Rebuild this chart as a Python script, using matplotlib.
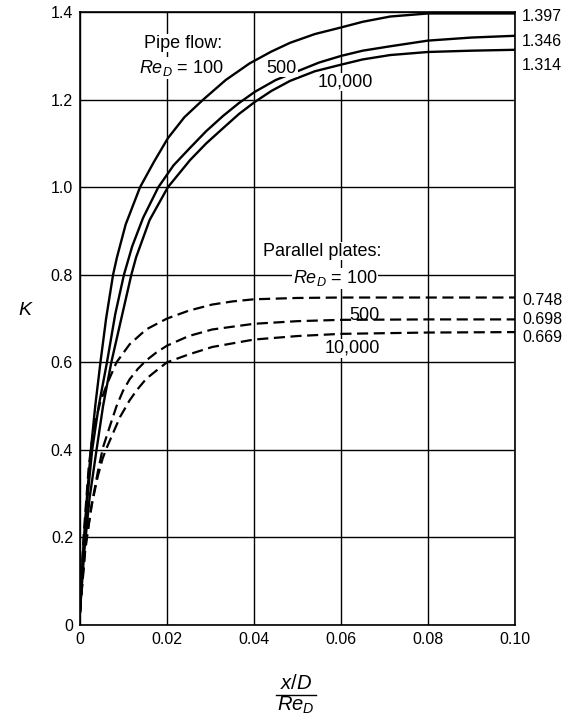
import matplotlib.pyplot as plt
from matplotlib.lines import Line2D

plt.rcParams['font.family'] = ['Liberation Sans', 'DejaVu Sans']
plt.rcParams['mathtext.fontset'] = 'custom'
plt.rcParams['mathtext.rm'] = 'Liberation Sans'
plt.rcParams['mathtext.it'] = 'Liberation Sans:italic'

# pipe flow, K vs (x/D)/Re_D
pipe_100_x = [0, 0.0006, 0.0015, 0.0025, 0.0035, 0.0047, 0.006, 0.0076, 0.0085, 0.0105,
              0.0138, 0.017, 0.0202, 0.024, 0.0283, 0.0335, 0.039, 0.044, 0.0483, 0.054,
              0.06, 0.065, 0.0713, 0.08, 0.09, 0.10]
pipe_100_k = [0.03, 0.15, 0.28, 0.4, 0.5, 0.6, 0.7, 0.8, 0.84, 0.915,
              1.0, 1.058, 1.112, 1.16, 1.2, 1.245, 1.283, 1.31, 1.33, 1.35,
              1.365, 1.378, 1.39, 1.397, 1.397, 1.397]
pipe_500_x = [0, 0.0008, 0.0017, 0.0028, 0.0043, 0.0062, 0.0081, 0.0101, 0.012, 0.0145,
              0.018, 0.0215, 0.0253, 0.029, 0.0329, 0.0365, 0.0402, 0.045, 0.05, 0.055,
              0.06, 0.065, 0.0713, 0.08, 0.09, 0.10]
pipe_500_k = [0.03, 0.17, 0.29, 0.4, 0.5, 0.6, 0.71, 0.8, 0.865, 0.93,
              1.0, 1.05, 1.09, 1.128, 1.163, 1.192, 1.218, 1.245, 1.265, 1.285,
              1.30, 1.312, 1.322, 1.335, 1.342, 1.346]
pipe_1e4_x = [0, 0.001, 0.0022, 0.0038, 0.0053, 0.0072, 0.0095, 0.0118, 0.0129, 0.016,
              0.0202, 0.0253, 0.029, 0.0329, 0.0365, 0.0402, 0.044, 0.0483, 0.054, 0.06,
              0.065, 0.0713, 0.08, 0.09, 0.10]
pipe_1e4_k = [0.03, 0.17, 0.29, 0.4, 0.5, 0.6, 0.7, 0.8, 0.84, 0.925,
              1.0, 1.062, 1.1, 1.135, 1.167, 1.195, 1.22, 1.243, 1.265, 1.28,
              1.292, 1.302, 1.309, 1.312, 1.314]

# parallel plates
plate_100_x = [0, 0.0008, 0.002, 0.0026, 0.0034, 0.0047, 0.0062, 0.0084, 0.0114, 0.0152,
               0.02, 0.025, 0.0304, 0.035, 0.04, 0.05, 0.06, 0.08, 0.10]
plate_100_k = [0.03, 0.2, 0.36, 0.41, 0.46, 0.51, 0.55, 0.6, 0.641, 0.675,
               0.70, 0.718, 0.732, 0.739, 0.744, 0.747, 0.748, 0.748, 0.748]
plate_500_x = [0, 0.0012, 0.0028, 0.0041, 0.0053, 0.0068, 0.0084, 0.0099, 0.0114, 0.0133,
               0.0152, 0.0175, 0.02, 0.025, 0.0304, 0.04, 0.05, 0.06, 0.08, 0.10]
plate_500_k = [0.03, 0.18, 0.28, 0.35, 0.406, 0.452, 0.50, 0.535, 0.561, 0.585,
               0.604, 0.622, 0.638, 0.66, 0.675, 0.688, 0.694, 0.697, 0.698, 0.698]
plate_1e4_x = [0, 0.0012, 0.0026, 0.0041, 0.0052, 0.0062, 0.0092, 0.0114, 0.0131, 0.0152,
               0.0168, 0.02, 0.025, 0.0304, 0.04, 0.05, 0.06, 0.08, 0.10]
plate_1e4_k = [0.03, 0.17, 0.27, 0.34, 0.38, 0.406, 0.475, 0.513, 0.537, 0.562,
               0.575, 0.6, 0.618, 0.635, 0.652, 0.66, 0.665, 0.668, 0.669]

pipe_limits = ['1.397', '1.346', '1.314']
plate_limits = ['0.748', '0.698', '0.669']
xticks = [0, 0.02, 0.04, 0.06, 0.08, 0.10]
xticklabels = ['0', '0.02', '0.04', '0.06', '0.08', '0.10']
yticks = [0, 0.2, 0.4, 0.6, 0.8, 1.0, 1.2, 1.4]
yticklabels = ['0', '0.2', '0.4', '0.6', '0.8', '1.0', '1.2', '1.4']

fig = plt.figure(figsize=(5.69, 7.15), dpi=100)
ax = fig.add_axes([0.1406, 0.126, 0.7645, 0.857])

for xs, ks in [(pipe_100_x, pipe_100_k), (pipe_500_x, pipe_500_k), (pipe_1e4_x, pipe_1e4_k)]:
    ax.plot(xs, ks, color='black', lw=1.7, zorder=3, solid_joinstyle='round')
for xs, ks in [(plate_100_x, plate_100_k), (plate_500_x, plate_500_k), (plate_1e4_x, plate_1e4_k)]:
    ax.plot(xs, ks, color='black', lw=1.6, dashes=(5, 2.5), zorder=3)

ax.set_xlim(0, 0.10)
ax.set_ylim(0, 1.4)
ax.set_xticks(xticks)
ax.set_xticklabels(xticklabels)
ax.set_yticks(yticks)
ax.set_yticklabels(yticklabels)
ax.tick_params(length=0, labelsize=11.5, pad=5)
ax.grid(True, color='black', lw=1.0)
ax.set_axisbelow(True)
for s in ax.spines.values():
    s.set_linewidth(1.2)

# right-hand limit values
lim_offsets = [-2, -4, -11]
for lab, ks, off in zip(pipe_limits, [pipe_100_k, pipe_500_k, pipe_1e4_k], lim_offsets):
    ax.annotate(lab, (0.10, ks[-1]), xytext=(5, off), textcoords='offset points',
                ha='left', va='center', fontsize=11.5, annotation_clip=False)
plate_offsets = [-2, 0, -4]
for lab, ks, off in zip(plate_limits, [plate_100_k, plate_500_k, plate_1e4_k], plate_offsets):
    ax.annotate(lab, (0.10, ks[-1]), xytext=(5, off), textcoords='offset points',
                ha='left', va='center', fontsize=11.5, annotation_clip=False)

fs = 13
wb = dict(facecolor='white', edgecolor='none', pad=0.5)
ax.text(0.0237, 1.329, 'Pipe flow:', ha='center', va='center', fontsize=fs, bbox=wb, zorder=5)
ax.text(0.0232, 1.272, '$Re_D$ = 100', ha='center', va='center', fontsize=fs, bbox=wb, zorder=5)
ax.text(0.0464, 1.272, '500', ha='center', va='center', fontsize=fs, bbox=wb, zorder=5)
ax.text(0.0609, 1.240, '10,000', ha='center', va='center', fontsize=fs, bbox=wb, zorder=5)

ax.text(0.0556, 0.854, 'Parallel plates:', ha='center', va='center', fontsize=fs, bbox=wb, zorder=5)
ax.text(0.0586, 0.792, '$Re_D$ = 100', ha='center', va='center', fontsize=fs, bbox=wb, zorder=5)
ax.text(0.0655, 0.706, '500', ha='center', va='center', fontsize=fs, zorder=5)
ax.text(0.0625, 0.632, '10,000', ha='center', va='center', fontsize=fs, bbox=wb, zorder=5)

ax.set_ylabel('$K$', rotation=0, fontsize=14)
ax.yaxis.set_label_coords(-0.125, 0.50)

# x label as a stacked fraction
fig.text(0.520, 0.0434, '$x/D$', ha='center', va='center', fontsize=14.5)
fig.add_artist(Line2D([0.485, 0.555], [0.0285, 0.0285], color='black', lw=1.0,
                      transform=fig.transFigure))
fig.text(0.520, 0.0128, '$Re_D$', ha='center', va='center', fontsize=14.5)

fig.savefig('out.png', dpi=100)
